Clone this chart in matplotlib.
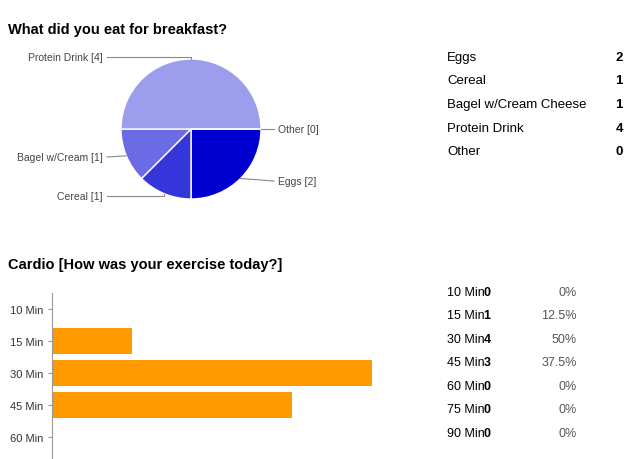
import numpy as np
import matplotlib
matplotlib.use("Agg")
import matplotlib.pyplot as plt

plt.rcParams["font.family"] = "Liberation Sans"

# breakfast data
food = ["Eggs", "Cereal", "Bagel w/Cream Cheese", "Protein Drink", "Other"]
food_short = ["Eggs", "Cereal", "Bagel w/Cream", "Protein Drink", "Other"]
food_counts = [2, 1, 1, 4, 0]
pie_colors = ["#0000d0", "#3535dc", "#6b6be6", "#9d9dee", "#c0c0f4"]

# cardio data
cardio = ["10 Min", "15 Min", "30 Min", "45 Min", "60 Min", "75 Min", "90 Min"]
cardio_counts = [0, 1, 4, 3, 0, 0, 0]
cardio_pct = ["0%", "12.5%", "50%", "37.5%", "0%", "0%", "0%"]

W, H = 637, 460
fig = plt.figure(figsize=(W / 100, H / 100), dpi=100)

def fx(px):
    return px / W

def fy(py):
    return 1 - py / H

# titles
fig.text(fx(8), fy(30), "What did you eat for breakfast?", fontsize=10.5,
         fontweight="bold", va="center")
fig.text(fx(8), fy(265), "Cardio [How was your exercise today?]", fontsize=10.5,
         fontweight="bold", va="center")

# pie
cx, cy, r = 191, 130, 70
pax = fig.add_axes([fx(cx - r), fy(cy + r), 2 * r / W, 2 * r / H])
wedges, _ = pax.pie(food_counts, colors=pie_colors, startangle=0, counterclock=False,
                    radius=1, wedgeprops=dict(edgecolor="white", linewidth=1))
pax.set_xlim(-1, 1)
pax.set_ylim(-1, 1)

# label positions (pixel): text anchor, elbow x (or None)
label_pos = {"Eggs": (274, 182, "left"), "Cereal": (107, 197, "right"),
             "Bagel w/Cream": (107, 158, "right"), "Protein Drink": (107, 58, "right"),
             "Other": (274, 130, "left")}
for w, name, n in zip(wedges, food_short, food_counts):
    ang = np.deg2rad((w.theta1 + w.theta2) / 2)
    if name == "Protein Drink":
        ang = np.deg2rad(90)
    ex, ey = np.cos(ang), np.sin(ang)
    tx, ty, ha = label_pos[name]
    pad = 4 if ha == "left" else -4
    fig.text(fx(tx + pad), fy(ty), f"{name} [{n}]", ha=ha, va="center",
             fontsize=7.5, color="#444444")
    # leader line in figure pixels
    px_e, py_e = cx + ex * r, cy - ey * r
    if name in ("Protein Drink", "Cereal"):
        xs, ys = [tx, px_e, px_e], [ty, ty, py_e]
    else:
        xs, ys = [tx, px_e], [ty, py_e]
    fig.add_artist(plt.Line2D([fx(v) for v in xs], [fy(v) for v in ys],
                              color="#888888", lw=0.8))

# breakfast table
for i, (name, n) in enumerate(zip(food, food_counts)):
    y = 58 + i * 23.5
    fig.text(fx(447), fy(y), name, fontsize=9.5, va="center")
    fig.text(fx(623), fy(y), str(n), fontsize=9.5, va="center", ha="right",
             fontweight="bold")

# bar chart
top, step = 294, 32
bax = fig.add_axes([fx(52), fy(top + step * len(cardio)), 400 / W, step * len(cardio) / H])
ypos = np.arange(len(cardio))
bax.barh(ypos, cardio_counts, height=0.8, color="#ff9900")
bax.set_ylim(len(cardio) - 0.5, -0.5)
bax.set_xlim(0, 5)
bax.set_yticks(ypos[:5])
bax.set_yticklabels(cardio[:5], fontsize=8, color="#333333")
bax.tick_params(axis="y", length=3, color="#999999")
bax.set_xticks([])
for s in ["top", "right", "bottom"]:
    bax.spines[s].set_visible(False)
bax.spines["left"].set_color("#999999")

# cardio table
for i, (name, n, p) in enumerate(zip(cardio, cardio_counts, cardio_pct)):
    y = 293 + i * 23.5
    fig.text(fx(447), fy(y), name, fontsize=9, va="center")
    fig.text(fx(487), fy(y), str(n), fontsize=9, va="center", ha="center",
             fontweight="bold")
    fig.text(fx(577), fy(y), p, fontsize=9, va="center", ha="right", color="#555555")

fig.savefig("out.png", dpi=100)
